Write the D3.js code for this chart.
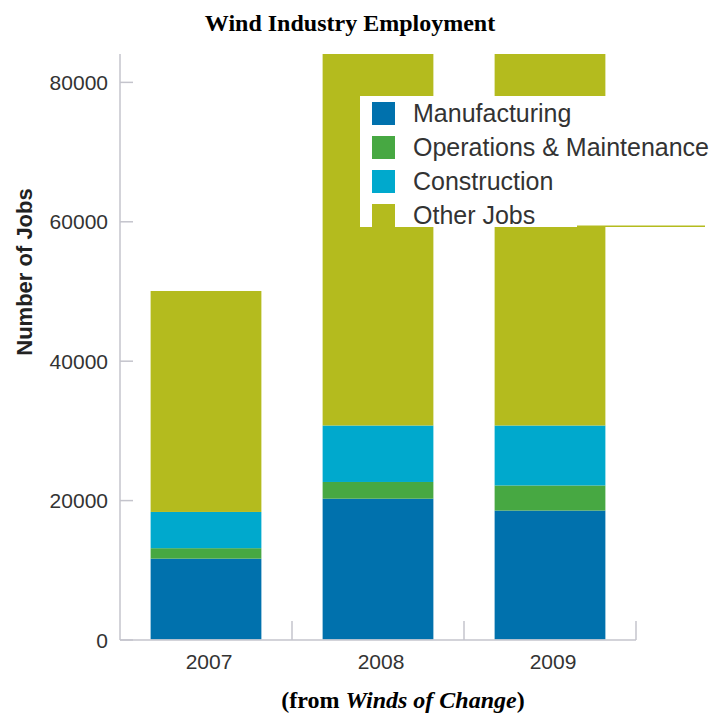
<!DOCTYPE html>
<html>
<head>
<meta charset="utf-8">
<script src="https://cdn.jsdelivr.net/npm/d3@7"></script>
<style>
    body { margin: 0; background: #fff; }
    svg { display: block; }
</style>
</head>
<body>
<svg width="720" height="720"></svg>
<script>
// data
const years = ["2007", "2008", "2009"];
const seriesNames = ["Manufacturing", "Operations & Maintenance", "Construction", "Other Jobs"];
const manufacturing = [11600, 20200, 18500];
const operations = [1500, 2400, 3600];
const construction = [5200, 8100, 8600];
const otherJobs = [31700, 54300, 54300];
const yTicks = [0, 20000, 40000, 60000, 80000];
const colors = ["#0071ad", "#47a842", "#00a9cd", "#b4bb1e"];

const rows = years.map((y, i) => ({
    year: y,
    "Manufacturing": manufacturing[i],
    "Operations & Maintenance": operations[i],
    "Construction": construction[i],
    "Other Jobs": otherJobs[i],
}));

var svg = d3.select("svg");
var plotLeft = 120, plotRight = 636, plotTop = 54, plotBottom = 639.5;
var axisColor = "#c4c4cc";

var xScale = d3.scaleBand().domain(years).range([plotLeft, plotRight]).paddingInner(0.356).paddingOuter(0.178);
var yScale = d3.scaleLinear().domain([0, 84000]).range([plotBottom, plotTop]);
var color = d3.scaleOrdinal().domain(seriesNames).range(colors);

var stacked = d3.stack().keys(seriesNames)(rows);

// bars run past the top of the plot and get cut off
svg.append("clipPath")
    .attr("id", "plotClip")
    .append("rect")
    .attr("x", plotLeft)
    .attr("y", plotTop)
    .attr("width", 720 - plotLeft)
    .attr("height", plotBottom - plotTop + 1);

svg.append("g")
    .attr("clip-path", "url(#plotClip)")
    .selectAll("g")
    .data(stacked)
    .enter()
    .append("g")
    .style("fill", d => color(d.key))
    .selectAll("rect")
    .data(d => d)
    .enter()
    .append("rect")
    .attr("x", d => xScale(d.data.year))
    .attr("y", d => yScale(d[1]))
    .attr("width", xScale.bandwidth())
    .attr("height", d => yScale(d[0]) - yScale(d[1]));

// y axis
var yAxis = svg.append("g")
    .attr("transform", "translate(" + plotLeft + ",0)")
    .call(d3.axisRight(yScale).tickValues(yTicks).tickSize(13).tickFormat(d3.format("d")));
yAxis.select(".domain")
    .attr("d", "M0," + plotTop + "V" + (plotBottom + 0.5))
    .attr("stroke", axisColor)
    .attr("stroke-width", 1.5);
yAxis.selectAll("line").attr("stroke", axisColor).attr("stroke-width", 1.5);
yAxis.selectAll("text")
    .attr("x", -12)
    .attr("dy", "0.36em")
    .attr("text-anchor", "end")
    .style("font-family", "Liberation Sans, Arial, sans-serif")
    .style("font-size", "21px")
    .style("fill", "#333");

// x axis with separators between categories
var xAxis = svg.append("g")
    .attr("transform", "translate(0," + (plotBottom + 0.5) + ")")
    .call(d3.axisBottom(xScale).tickSize(0).tickPadding(14));
xAxis.select(".domain")
    .attr("d", "M" + plotLeft + ",0H" + plotRight)
    .attr("stroke", axisColor)
    .attr("stroke-width", 1.5);
xAxis.selectAll("text")
    .attr("dx", 3)
    .style("font-family", "Liberation Sans, Arial, sans-serif")
    .style("font-size", "21px")
    .style("fill", "#333");

var gap = (xScale.step() - xScale.bandwidth()) / 2;
xAxis.selectAll(".sep")
    .data(years)
    .enter()
    .append("line")
    .attr("class", "sep")
    .attr("x1", d => xScale(d) + xScale.bandwidth() + gap)
    .attr("x2", d => xScale(d) + xScale.bandwidth() + gap)
    .attr("y1", 0)
    .attr("y2", -19)
    .attr("stroke", axisColor)
    .attr("stroke-width", 1.5);

// y label
svg.append("text")
    .attr("text-anchor", "middle")
    .attr("transform", "translate(32,272)rotate(-90)")
    .style("font-family", "Liberation Sans, Arial, sans-serif")
    .style("font-weight", "bold")
    .style("font-size", "22px")
    .style("fill", "#222")
    .text("Number of Jobs");

// title
svg.append("text")
    .attr("x", 350)
    .attr("y", 31)
    .attr("text-anchor", "middle")
    .style("font-family", "Liberation Serif, Times New Roman, serif")
    .style("font-weight", "bold")
    .style("font-size", "24px")
    .text("Wind Industry Employment");

// source note
var note = svg.append("text")
    .attr("x", 403)
    .attr("y", 708)
    .attr("text-anchor", "middle")
    .style("font-family", "Liberation Serif, Times New Roman, serif")
    .style("font-weight", "bold")
    .style("font-size", "24px");
note.append("tspan").text("(from ");
note.append("tspan").style("font-style", "italic").text("Winds of Change");
note.append("tspan").text(")");

// legend sits on a white box over the bars
var legend = svg.append("g");
legend.append("rect")
    .attr("x", 360)
    .attr("y", 96)
    .attr("width", 352)
    .attr("height", 131)
    .style("fill", "#fff");
legend.append("rect")
    .attr("x", 577)
    .attr("y", 225.5)
    .attr("width", 128)
    .attr("height", 1.5)
    .style("fill", colors[3]);

var item = legend.selectAll(".item")
    .data(seriesNames)
    .enter()
    .append("g")
    .attr("class", "item")
    .attr("transform", (d, i) => "translate(372," + (102 + i * 34) + ")");

item.append("rect")
    .attr("width", 23)
    .attr("height", (d, i) => i === 3 ? 25 : 23)
    .style("fill", d => color(d));

item.append("text")
    .attr("x", 41)
    .attr("y", 19.5)
    .style("font-family", "Liberation Sans, Arial, sans-serif")
    .style("font-size", "25px")
    .style("fill", "#333")
    .text(d => d);
</script>
</body>
</html>
